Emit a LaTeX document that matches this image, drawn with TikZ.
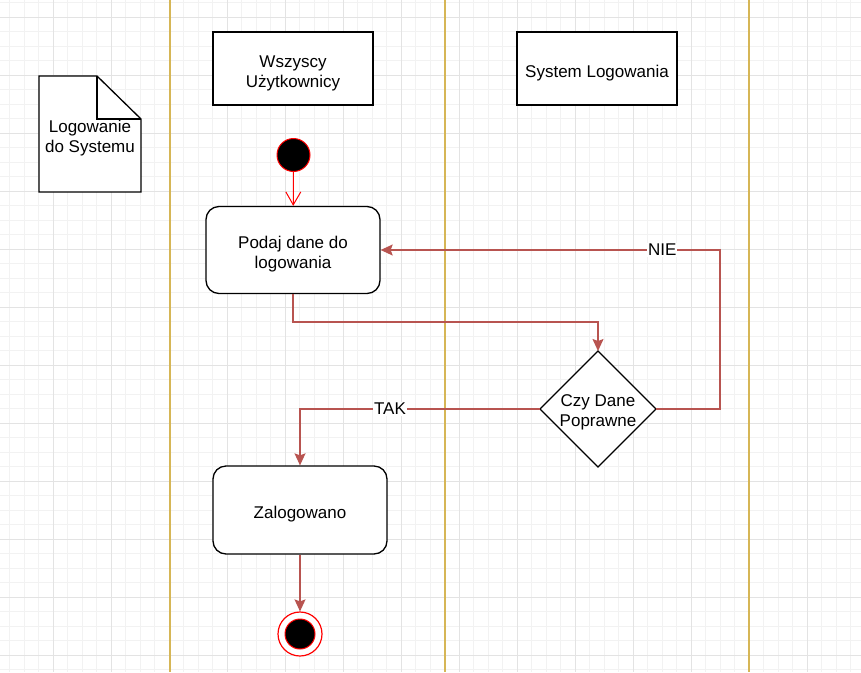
\documentclass[tikz,border=0pt]{standalone}
\usepackage{fontspec}
\setmainfont{Liberation Sans}
\usetikzlibrary{arrows.meta}
\definecolor{lane}{HTML}{D6B656}
\definecolor{conn}{HTML}{B85450}
\definecolor{startred}{HTML}{FF0000}
\definecolor{gridminor}{HTML}{F2F2F2}
\definecolor{gridmajor}{HTML}{E3E3E3}
\begin{document}
\begin{tikzpicture}[x=1pt,y=-1pt,
  font=\fontsize{17}{20}\selectfont,
  box/.style={draw, line width=1.3pt, fill=white, minimum width=160pt, minimum height=73pt, inner sep=0pt},
  act/.style={draw, line width=1.3pt, fill=white, rounded corners=13pt, minimum width=174pt, minimum height=87pt, inner sep=0pt},
  txt/.style={align=center, inner sep=0pt},
  shapeline/.style={draw, line width=1.3pt, fill=white},
  flow/.style={conn, line width=1.3pt, -{Stealth[length=12pt,width=11pt,inset=2pt]}},
  startflow/.style={startred, line width=1pt, -{Straight Barb[length=13pt,width=15pt]}},
  lbl/.style={fill=white, inner sep=1pt, text=black},
  lanestyle/.style={lane, line width=2pt}
]
\useasboundingbox (0,0) rectangle (861,672);
\fill[white] (0,0) rectangle (861,672);
% grid
\foreach \i in {0,...,58} { \draw[gridminor, line width=0.8pt] ({9.8+14.5*\i},0) -- ({9.8+14.5*\i},672); }
\foreach \i in {0,...,46} { \draw[gridminor, line width=0.8pt] (0,{2.8+14.5*\i}) -- (861,{2.8+14.5*\i}); }
\foreach \i in {0,...,14} { \draw[gridmajor, line width=0.9pt] ({53.3+58*\i},0) -- ({53.3+58*\i},672); }
\foreach \i in {0,...,11} { \draw[gridmajor, line width=0.9pt] (0,{17.3+58*\i}) -- (861,{17.3+58*\i}); }
% lanes
\draw[lanestyle] (170,0) -- (170,672);
\draw[lanestyle] (445,0) -- (445,672);
\draw[lanestyle] (749,0) -- (749,672);
% note
\draw[shapeline] (39,76) -- (97,76) -- (141,119) -- (141,192) -- (39,192) -- cycle;
\draw[line width=1.3pt] (97,76) -- (97,119) -- (141,119);
\node[txt] (note) at (90,138) {Logowanie\\do Systemu};
% headers
\node[box] (all) at (293,68.5) {};
\node[txt] (alltxt) at (293,73) {Wszyscy\\Użytkownicy};
\node[box] (sys) at (597,68.5) {};
\node[txt] (systxt) at (597,73) {System Logowania};
% activity nodes
\node[circle, fill=black, draw=startred, line width=1pt, minimum size=33pt, inner sep=0pt] (start) at (293.5,155) {};
\node[act] (podaj) at (293,250) {};
\node[txt] (podajtxt) at (293,254.5) {Podaj dane do\\logowania};
\node[act, minimum height=88pt] (zal) at (300,510) {};
\node[txt] (zaltxt) at (300,514) {Zalogowano};
\node[circle, draw=startred, fill=white, line width=1.2pt, minimum size=44pt, inner sep=0pt] (end) at (300,634) {};
\node[circle, fill=black, draw=startred, line width=1pt, minimum size=30pt, inner sep=0pt] (endin) at (end.center) {};
% decision
\coordinate (dt) at (598,351);
\coordinate (dr) at (656,409);
\coordinate (db) at (598,467);
\coordinate (dl) at (540,409);
\draw[shapeline] (dt) -- (dr) -- (db) -- (dl) -- cycle;
\node[txt] (dq) at (598,412) {Czy Dane\\Poprawne};
% connectors
\coordinate (c1) at (598,322);
\coordinate (n1) at (720,409);
\coordinate (n2) at (720,250);
\coordinate (t1) at (300,409);
\draw[startflow] (start) -- (podaj);
\draw[flow] (podaj.south) |- (c1) -- (dt);
\draw[flow] (dr) -- (n1) -- (n2) -- node[lbl, pos=0.17] {NIE} (podaj.east);
\draw[flow] (dl) -- node[lbl, pos=0.625] {TAK} (t1) -- (zal.north);
\draw[flow] (zal.south) -- (end.north);
\end{tikzpicture}
\end{document}
